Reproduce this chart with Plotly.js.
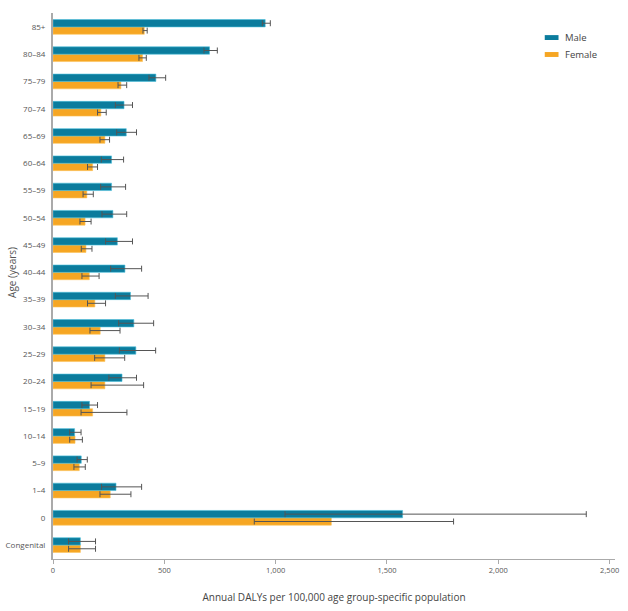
<!DOCTYPE html>
<html>
<head>
<meta charset="utf-8">
<script src="https://cdn.plot.ly/plotly-3.0.1.min.js"></script>
<style>html,body{margin:0;padding:0;background:#fff;}#chart{width:628px;height:611px;}</style>
</head>
<body>
<div id="chart"></div>
<script>
// Categories bottom-to-top
var ageGroups = ['Congenital','0','1–4','5–9','10–14','15–19','20–24','25–29','30–34','35–39','40–44','45–49','50–54','55–59','60–64','65–69','70–74','75–79','80–84','85+'];
var maleValues   = [123,1570,283,127,97,164,310,372,363,348,323,289,269,263,263,329,319,462,703,953];
var maleLower    = [70,1042,218,108,75,130,251,298,295,280,259,236,220,214,217,286,280,431,678,940];
var maleUpper    = [191,2395,398,154,126,200,375,461,452,427,398,357,331,326,317,375,357,506,738,976];
var femaleValues = [123,1250,257,118,99,178,233,233,212,188,163,148,144,152,178,233,215,305,402,410];
var femaleLower  = [70,904,211,94,75,126,171,187,166,155,130,127,121,135,155,211,200,292,386,404];
var femaleUpper  = [191,1799,350,145,132,332,407,322,301,236,207,175,171,181,200,254,239,331,419,423];

var maleColor = '#0b7c9d', femaleColor = '#f6a623';

function diff(a, b) { return a.map(function (v, i) { return v - b[i]; }); }

var font = 'Open Sans, Noto Sans, sans-serif';
var femaleTrace = {
  type: 'bar', orientation: 'h', name: 'Female', y: ageGroups, x: femaleValues,
  marker: {color: femaleColor, line: {color: '#fbc35a', width: 0.6}},
  error_x: {type: 'data', symmetric: false, array: diff(femaleUpper, femaleValues), arrayminus: diff(femaleValues, femaleLower), color: '#555', thickness: 1, width: 3},
  showlegend: false, hoverinfo: 'x+y+name'
};
var maleTrace = {
  type: 'bar', orientation: 'h', name: 'Male', y: ageGroups, x: maleValues,
  marker: {color: maleColor, line: {color: '#4cc0dc', width: 0.6}},
  error_x: {type: 'data', symmetric: false, array: diff(maleUpper, maleValues), arrayminus: diff(maleValues, maleLower), color: '#555', thickness: 1, width: 3},
  showlegend: false, hoverinfo: 'x+y+name'
};

var layout = {
  width: 628, height: 611,
  margin: {l: 53, r: 13, t: 13, b: 52},
  paper_bgcolor: '#fff', plot_bgcolor: '#fff',
  barmode: 'group', bargap: 0.46, bargroupgap: 0,
  font: {family: font, color: '#555'},
  xaxis: {
    range: [0, 2524], tickvals: [0, 500, 1000, 1500, 2000, 2500], tickformat: ',',
    showgrid: false, zeroline: false, showline: true, linecolor: '#aaa', linewidth: 1,
    ticks: 'outside', ticklen: 4, tickcolor: '#aaa', tickfont: {size: 7.5, color: '#555'},
    title: {text: 'Annual DALYs per 100,000 age group-specific population', font: {size: 10, color: '#444'}, standoff: 19}
  },
  yaxis: {
    type: 'category', range: [-0.51, 19.51], categoryorder: 'array', categoryarray: ageGroups,
    showgrid: false, zeroline: false, showline: true, linecolor: '#aaa', linewidth: 2,
    ticks: '', tickfont: {size: 8, color: '#555'}, ticklabelstandoff: 4
  },
  shapes: [
    {type: 'rect', xref: 'paper', yref: 'paper', x0: 0.875, x1: 0.8995, y0: 0.9505, y1: 0.9595, fillcolor: maleColor, line: {width: 0}},
    {type: 'rect', xref: 'paper', yref: 'paper', x0: 0.875, x1: 0.8995, y0: 0.9195, y1: 0.9285, fillcolor: femaleColor, line: {width: 0}}
  ],
  annotations: [
    {xref: 'paper', yref: 'paper', x: 0.908, y: 0.955, text: 'Male', showarrow: false, xanchor: 'left', yanchor: 'middle', font: {size: 9.5, color: '#444'}},
    {xref: 'paper', yref: 'paper', x: 0.908, y: 0.924, text: 'Female', showarrow: false, xanchor: 'left', yanchor: 'middle', font: {size: 9.5, color: '#444'}},
    {xref: 'paper', yref: 'paper', x: -0.072, y: 0.525, text: 'Age (years)', textangle: -90, showarrow: false, xanchor: 'center', yanchor: 'middle', font: {size: 10, color: '#555'}}
  ]
};

Plotly.newPlot('chart', [femaleTrace, maleTrace], layout, {displayModeBar: false, staticPlot: true});
</script>
</body>
</html>
